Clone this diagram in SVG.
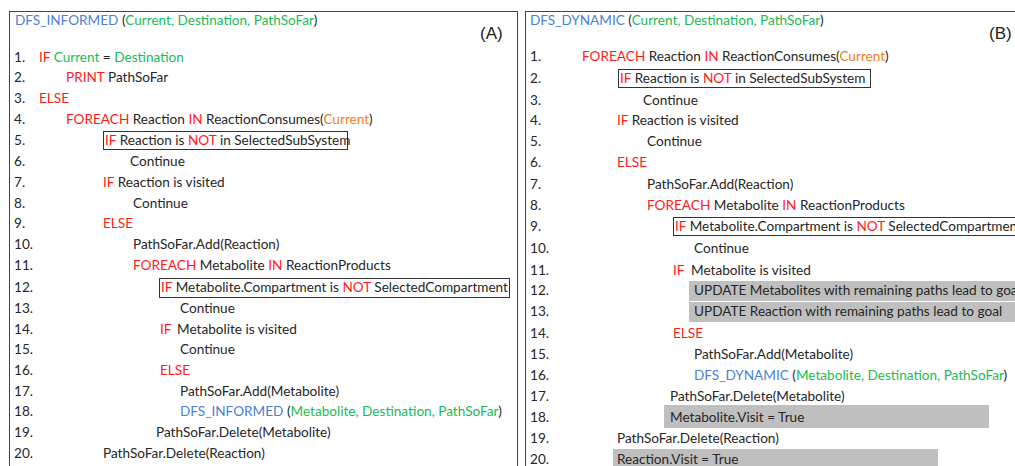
<svg xmlns="http://www.w3.org/2000/svg" width="1015" height="466" viewBox="0 0 1015 466">
  <style>
    text { font-family: Lato, "Liberation Sans", sans-serif; font-size: 13.6px; fill: #262626; }
    .kw { fill: #ff1a1a; }
    .fn { fill: #4a80d6; }
    .arg { fill: #1db954; }
    .cur { fill: #ee7d2a; }
    .tag { font-family: "Liberation Sans", Arial, sans-serif; font-size: 17px; fill: #222; }
    .panel { fill: #fff; stroke: #444; stroke-width: 1; }
    .cond { fill: none; stroke: #333; stroke-width: 1; }
    .hl { fill: #bfbfbf; }
  </style>

  <!-- Panel A: DFS_INFORMED -->
  <g id="panel-a">
    <rect class="panel" x="9.5" y="11.5" width="508" height="470"/>
    <text x="15" y="25"><tspan class="fn">DFS_INFORMED</tspan> (<tspan class="arg">Current, Destination, PathSoFar</tspan>)</text>
    <text class="tag" x="480" y="39">(A)</text>

    <rect class="cond" x="103.5" y="131.5" width="244" height="18"/>
    <rect class="cond" x="159.5" y="278.5" width="350" height="19"/>

    <g id="a-numbers">
      <text x="14" y="61.5">1.</text>
      <text x="14" y="82">2.</text>
      <text x="14" y="103">3.</text>
      <text x="14" y="124">4.</text>
      <text x="14" y="145">5.</text>
      <text x="14" y="165.5">6.</text>
      <text x="14" y="186.5">7.</text>
      <text x="14" y="207.5">8.</text>
      <text x="14" y="228">9.</text>
      <text x="14" y="249">10.</text>
      <text x="14" y="270">11.</text>
      <text x="14" y="291.5">12.</text>
      <text x="14" y="312.5">13.</text>
      <text x="14" y="333.5">14.</text>
      <text x="14" y="354">15.</text>
      <text x="14" y="375">16.</text>
      <text x="14" y="395.5">17.</text>
      <text x="14" y="416">18.</text>
      <text x="14" y="437">19.</text>
      <text x="14" y="458">20.</text>
    </g>
    <g id="a-code">
      <text x="39" y="61.5"><tspan class="kw">IF</tspan> <tspan class="arg">Current</tspan> = <tspan class="arg">Destination</tspan></text>
      <text x="66" y="82"><tspan class="kw">PRINT</tspan> PathSoFar</text>
      <text x="39" y="103" class="kw">ELSE</text>
      <text x="66" y="124"><tspan class="kw">FOREACH</tspan> Reaction <tspan class="kw">IN</tspan> ReactionConsumes(<tspan class="cur">Current</tspan>)</text>
      <text x="105" y="145"><tspan class="kw">IF</tspan> Reaction is <tspan class="kw">NOT</tspan> in SelectedSubSystem</text>
      <text x="130" y="165.5">Continue</text>
      <text x="103" y="186.5"><tspan class="kw">IF</tspan> Reaction is visited</text>
      <text x="133" y="207.5">Continue</text>
      <text x="103" y="228" class="kw">ELSE</text>
      <text x="133" y="249">PathSoFar.Add(Reaction)</text>
      <text x="133" y="270"><tspan class="kw">FOREACH</tspan> Metabolite <tspan class="kw">IN</tspan> ReactionProducts</text>
      <text x="161" y="291.5"><tspan class="kw">IF</tspan> Metabolite.Compartment is <tspan class="kw">NOT</tspan> SelectedCompartment</text>
      <text x="180" y="312.5">Continue</text>
      <text x="160" y="333.5"><tspan class="kw">IF</tspan><tspan x="177">Metabolite is visited</tspan></text>
      <text x="180" y="354">Continue</text>
      <text x="160" y="375" class="kw">ELSE</text>
      <text x="180" y="395.5">PathSoFar.Add(Metabolite)</text>
      <text x="180" y="416"><tspan class="fn">DFS_INFORMED</tspan> (<tspan class="arg">Metabolite, Destination, PathSoFar</tspan>)</text>
      <text x="156" y="437">PathSoFar.Delete(Metabolite)</text>
      <text x="103" y="458">PathSoFar.Delete(Reaction)</text>
    </g>
  </g>

  <!-- Panel B: DFS_DYNAMIC -->
  <g id="panel-b">
    <rect class="panel" x="525.5" y="11.5" width="500" height="470"/>
    <text x="530" y="25"><tspan class="fn">DFS_DYNAMIC</tspan> (<tspan class="arg">Current, Destination, PathSoFar</tspan>)</text>
    <text class="tag" x="989" y="39">(B)</text>

    <rect class="hl" x="689" y="281" width="330" height="20"/>
    <rect class="hl" x="689" y="302" width="330" height="20"/>
    <rect class="hl" x="664" y="405" width="325" height="23"/>
    <rect class="hl" x="613" y="449" width="325" height="25"/>

    <rect class="cond" x="618.5" y="69.5" width="252" height="18"/>
    <rect class="cond" x="673.5" y="217.5" width="350" height="18"/>

    <g id="b-numbers">
      <text x="530" y="60.5">1.</text>
      <text x="530" y="82.5">2.</text>
      <text x="530" y="104.5">3.</text>
      <text x="530" y="124.5">4.</text>
      <text x="530" y="145.5">5.</text>
      <text x="530" y="166.5">6.</text>
      <text x="530" y="188.5">7.</text>
      <text x="530" y="209.5">8.</text>
      <text x="530" y="230.5">9.</text>
      <text x="530" y="252.5">10.</text>
      <text x="530" y="274.5">11.</text>
      <text x="530" y="294.5">12.</text>
      <text x="530" y="315.5">13.</text>
      <text x="530" y="337.5">14.</text>
      <text x="530" y="358.5">15.</text>
      <text x="530" y="379.5">16.</text>
      <text x="530" y="400.5">17.</text>
      <text x="530" y="421.5">18.</text>
      <text x="530" y="442.5">19.</text>
      <text x="530" y="463.5">20.</text>
    </g>
    <g id="b-code">
      <text x="582" y="60.5"><tspan class="kw">FOREACH</tspan> Reaction <tspan class="kw">IN</tspan> ReactionConsumes(<tspan class="cur">Current</tspan>)</text>
      <text x="620" y="82.5"><tspan class="kw">IF</tspan> Reaction is <tspan class="kw">NOT</tspan> in SelectedSubSystem</text>
      <text x="643" y="104.5">Continue</text>
      <text x="617" y="124.5"><tspan class="kw">IF</tspan> Reaction is visited</text>
      <text x="647" y="145.5">Continue</text>
      <text x="617" y="166.5" class="kw">ELSE</text>
      <text x="647" y="188.5">PathSoFar.Add(Reaction)</text>
      <text x="647" y="209.5"><tspan class="kw">FOREACH</tspan> Metabolite <tspan class="kw">IN</tspan> ReactionProducts</text>
      <text x="675" y="230.5"><tspan class="kw">IF</tspan> Metabolite.Compartment is <tspan class="kw">NOT</tspan> SelectedCompartment</text>
      <text x="694" y="252.5">Continue</text>
      <text x="673" y="274.5"><tspan class="kw">IF</tspan><tspan x="691">Metabolite is visited</tspan></text>
      <text x="694" y="294.5">UPDATE Metabolites with remaining paths lead to goal</text>
      <text x="694" y="315.5">UPDATE Reaction with remaining paths lead to goal</text>
      <text x="673" y="337.5" class="kw">ELSE</text>
      <text x="694" y="358.5">PathSoFar.Add(Metabolite)</text>
      <text x="694" y="379.5"><tspan class="fn">DFS_DYNAMIC</tspan> (<tspan class="arg">Metabolite, Destination, PathSoFar</tspan>)</text>
      <text x="670" y="400.5">PathSoFar.Delete(Metabolite)</text>
      <text x="670" y="421.5">Metabolite.Visit = True</text>
      <text x="617" y="442.5">PathSoFar.Delete(Reaction)</text>
      <text x="617" y="463.5">Reaction.Visit = True</text>
    </g>
  </g>
</svg>
